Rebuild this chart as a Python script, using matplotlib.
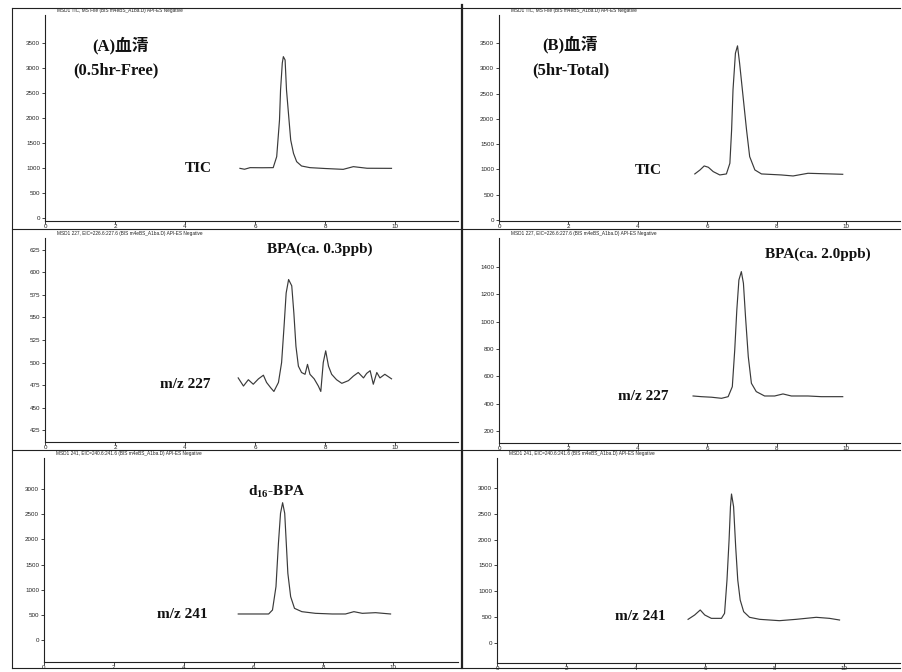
import matplotlib
matplotlib.use('Agg')
import matplotlib.pyplot as plt
from matplotlib.lines import Line2D

plt.rcParams['font.family'] = ['Liberation Serif', 'Noto Sans CJK JP', 'DejaVu Sans']
plt.rcParams['mathtext.fontset'] = 'custom'
plt.rcParams['mathtext.rm'] = 'Liberation Serif'
plt.rcParams['mathtext.bf'] = 'Liberation Serif:bold'

W, H = 902, 672

# ---- data (retention time [min], abundance) ----
tic_a_t = [5.57, 5.70, 5.86, 6.20, 6.52, 6.62, 6.70, 6.73, 6.78, 6.81, 6.86, 6.90, 6.98, 7.02, 7.10, 7.19, 7.33, 7.57, 8.00, 8.52, 8.81, 9.20, 9.90]
tic_a_v = [993, 975, 1007, 1005, 1007, 1227, 1960, 2560, 3100, 3227, 3160, 2560, 1893, 1560, 1293, 1127, 1040, 1007, 990, 973, 1027, 995, 993]

tic_b_t = [5.64, 5.79, 5.91, 6.03, 6.17, 6.36, 6.55, 6.65, 6.70, 6.74, 6.81, 6.87, 6.93, 7.03, 7.13, 7.22, 7.37, 7.56, 8.13, 8.47, 8.90, 9.90]
tic_b_v = [911, 990, 1069, 1043, 957, 891, 911, 1122, 1782, 2574, 3300, 3445, 3102, 2442, 1782, 1254, 990, 911, 891, 871, 924, 904]

bpa_a_t = [5.52, 5.67, 5.81, 5.95, 6.10, 6.24, 6.33, 6.45, 6.54, 6.67, 6.76, 6.83, 6.89, 6.96, 7.05, 7.11, 7.17, 7.24, 7.33, 7.43, 7.50, 7.57, 7.69, 7.81, 7.88, 7.95, 8.02, 8.10, 8.19, 8.33, 8.48, 8.67, 8.81, 8.95, 9.10, 9.19, 9.29, 9.38, 9.48, 9.57, 9.71, 9.90]
bpa_a_v = [483, 474, 481, 476, 482, 486, 478, 472, 468, 478, 500, 540, 577, 592, 585, 555, 518, 496, 489, 487, 498, 487, 482, 474, 468, 500, 513, 496, 487, 481, 477, 480, 485, 489, 483, 488, 491, 476, 489, 483, 487, 482]

bpa_b_t = [5.59, 5.83, 6.12, 6.41, 6.60, 6.72, 6.79, 6.85, 6.91, 6.98, 7.04, 7.10, 7.18, 7.27, 7.41, 7.65, 7.94, 8.18, 8.42, 8.90, 9.28, 9.90]
bpa_b_v = [456, 451, 447, 439, 451, 524, 793, 1086, 1305, 1366, 1281, 1037, 744, 549, 488, 456, 456, 471, 456, 456, 451, 451]

d16_a_t = [5.56, 6.04, 6.43, 6.54, 6.64, 6.71, 6.77, 6.83, 6.89, 6.93, 6.98, 7.06, 7.17, 7.38, 7.77, 8.25, 8.63, 8.87, 9.11, 9.49, 9.92]
d16_a_v = [517, 517, 517, 596, 1060, 1921, 2517, 2728, 2517, 1987, 1325, 861, 629, 563, 530, 517, 517, 563, 530, 543, 517]

d16_b_t = [5.50, 5.69, 5.85, 5.98, 6.17, 6.46, 6.55, 6.62, 6.68, 6.72, 6.75, 6.81, 6.87, 6.93, 7.00, 7.10, 7.27, 7.56, 8.13, 8.61, 9.19, 9.57, 9.86]
d16_b_v = [458, 542, 639, 542, 477, 477, 574, 1219, 1993, 2638, 2883, 2638, 1864, 1219, 832, 606, 497, 458, 432, 458, 497, 477, 445]

headers = [
    'MSD1 TIC, MS File (BIS m4eBS_A1ba.D) API-ES Negative',
    'MSD1 TIC, MS File (BIS m4eBS_A1ba.D) API-ES Negative',
    'MSD1 227, EIC=226.6:227.6 (BIS m4eBS_A1ba.D) API-ES Negative',
    'MSD1 227, EIC=226.6:227.6 (BIS m4eBS_A1ba.D) API-ES Negative',
    'MSD1 241, EIC=240.6:241.6 (BIS m4eBS_A1ba.D) API-ES Negative',
    'MSD1 241, EIC=240.6:241.6 (BIS m4eBS_A1ba.D) API-ES Negative',
]
x_ticks = [0, 2, 4, 6, 8, 10]
y_ticks = [
    [0, 500, 1000, 1500, 2000, 2500, 3000, 3500],
    [0, 500, 1000, 1500, 2000, 2500, 3000, 3500],
    [425, 450, 475, 500, 525, 550, 575, 600, 625],
    [200, 400, 600, 800, 1000, 1200, 1400],
    [0, 500, 1000, 1500, 2000, 2500, 3000],
    [0, 500, 1000, 1500, 2000, 2500, 3000],
]
series = [(tic_a_t, tic_a_v), (tic_b_t, tic_b_v), (bpa_a_t, bpa_a_v),
          (bpa_b_t, bpa_b_v), (d16_a_t, d16_a_v), (d16_b_t, d16_b_v)]

# pixel boxes (x0, y_top, x1, y_bottom) and axis limits
boxes = [(45, 15, 458, 221), (499, 15, 900, 221),
         (45, 238, 458, 442), (499, 238, 900, 443),
         (44, 458, 458, 662), (497, 458, 900, 663)]
ylims = [(-60, 4060), (-20, 4055), (412, 638), (112, 1612), (-437, 3616), (-387, 3580)]
xlims = [(0, 11.8), (0, 11.55), (0, 11.8), (0, 11.55), (0, 11.85), (0, 11.6)]


def fx(x):
    return x / W


def fy(y):
    return 1 - y / H


fig = plt.figure(figsize=(W / 100, H / 100), dpi=100)
fig.patch.set_facecolor('white')

for i, (x0, y0, x1, y1) in enumerate(boxes):
    ax = fig.add_axes([fx(x0), fy(y1), (x1 - x0) / W, (y1 - y0) / H])
    t, v = series[i]
    ax.plot(t, v, color='#3a3a3a', lw=0.85)
    ax.set_xlim(*xlims[i])
    ax.set_ylim(*ylims[i])
    ax.set_xticks(x_ticks)
    ax.set_yticks(y_ticks[i])
    for s in ['top', 'right']:
        ax.spines[s].set_visible(False)
    for s in ['left', 'bottom']:
        ax.spines[s].set_linewidth(0.8)
        ax.spines[s].set_color('#222222')
    ax.tick_params(length=2, width=0.6, labelsize=4.5, colors='#222222')
    ax.tick_params(axis='x', pad=0.5)
    ax.tick_params(axis='y', pad=1.5)
    for lab in ax.get_xticklabels() + ax.get_yticklabels():
        lab.set_family('Liberation Sans')
    ax.patch.set_alpha(0)
    fig.text(fx(x0 + 12), fy(y0 - 4.5), headers[i], fontsize=3.4, family='Liberation Sans',
             va='center', ha='left', color='#222222')

# frame lines of the scanned page
frame = [
    ((12, 460), (8, 8)), ((463, 900), (8, 8)),
    ((12, 460), (229, 229)), ((463, 900), (229, 229)),
    ((12, 460), (450, 450)), ((463, 900), (450, 450)),
    ((12, 460), (668, 668)), ((463, 900), (668, 668)),
    ((12, 12), (8, 668)), ((462, 462), (5, 668)),
]
for xs, ys in frame:
    lw = 1.6 if xs[0] == xs[1] and xs[0] == 462 else 0.8
    fig.add_artist(Line2D([fx(xs[0]), fx(xs[1])], [fy(ys[0]), fy(ys[1])],
                          color='#222222', lw=lw, transform=fig.transFigure))

# panel annotations
lab = dict(fontsize=11, fontweight='bold', color='#111111', va='center')
big = dict(lab, fontsize=12)
fig.text(fx(92), fy(46), '(A)血清', ha='left', **big)
fig.text(fx(73), fy(70), '(0.5hr-Free)', ha='left', **big)
fig.text(fx(185), fy(169), 'TIC', ha='left', **lab)
fig.text(fx(542), fy(45), '(B)血清', ha='left', **big)
fig.text(fx(532), fy(70), '(5hr-Total)', ha='left', **big)
fig.text(fx(635), fy(170), 'TIC', ha='left', **lab)
fig.text(fx(267), fy(249), 'BPA(ca. 0.3ppb)', ha='left', **lab)
fig.text(fx(160), fy(384), 'm/z 227', ha='left', **lab)
fig.text(fx(765), fy(254), 'BPA(ca. 2.0ppb)', ha='left', **lab)
fig.text(fx(618), fy(396), 'm/z 227', ha='left', **lab)
fig.text(fx(248), fy(492), r'd$_{\mathbf{16}}$-BPA', ha='left', **lab)
fig.text(fx(157), fy(615), 'm/z 241', ha='left', **lab)
fig.text(fx(615), fy(617), 'm/z 241', ha='left', **lab)

fig.savefig('out.png', dpi=100, facecolor='white')
